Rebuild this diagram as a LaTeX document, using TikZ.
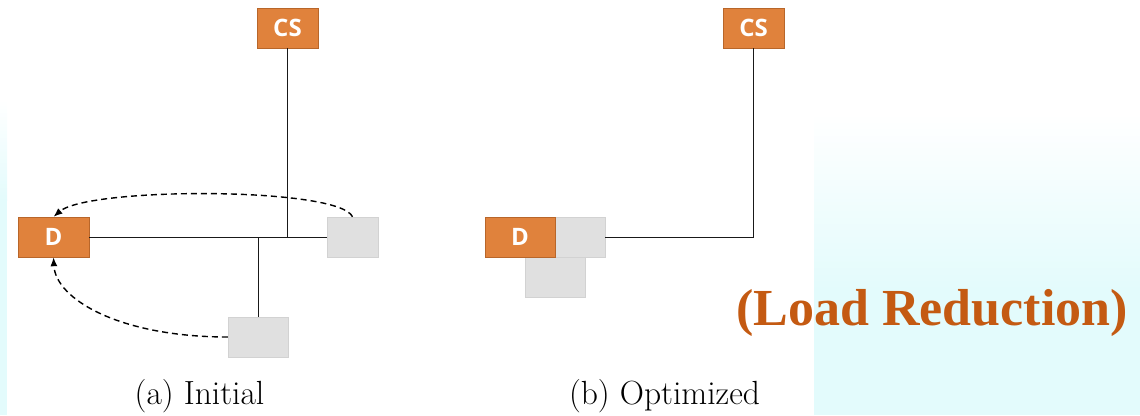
\documentclass[tikz,border=0pt]{standalone}
\usepackage{fontspec}
\newfontfamily\boxfont{Open Sans}
\newfontfamily\titlefont{Liberation Serif}
\usepackage{xcolor}
\usetikzlibrary{arrows.meta}

\definecolor{nodeorange}{HTML}{E0823C}
\definecolor{nodeedge}{HTML}{B8662A}
\definecolor{idlegray}{HTML}{E0E0E0}
\definecolor{idleedge}{HTML}{D2D2D2}
\definecolor{loadtext}{HTML}{C45A12}
\definecolor{slidecyan}{HTML}{E3FBFC}

\begin{document}
\begin{tikzpicture}[x=1pt, y=-1pt,
    station/.style={draw=nodeedge, fill=nodeorange, text=white, font=\boxfont\fontsize{24}{24}\selectfont\bfseries, minimum height=40pt, inner sep=0pt},
    idle/.style={draw=idleedge, fill=idlegray, minimum width=60pt, minimum height=40pt, inner sep=0pt},
    wire/.style={line width=1pt, black!90},
    move/.style={line width=1.4pt, dash pattern=on 6pt off 4pt, -{Latex[length=9pt,width=7pt]}},
    caption/.style={font=\fontsize{33.5}{38}\selectfont}]
    \useasboundingbox (0,0) rectangle (1140,415);

    % --- slide background ---
    \shade[top color=white, bottom color=slidecyan] (814,113) rectangle (1140,290);
    \fill[slidecyan] (814,289.5) rectangle (1140,415);
    \shade[top color=white, bottom color=slidecyan] (0,100) rectangle (7,200);
    \fill[slidecyan] (0,199.5) rectangle (7,415);

    % --- (a) Initial ---
    \node[station, minimum width=61pt] (csA) at (287.5,28) {CS};
    \node[station, minimum width=71pt] (dA) at (53.5,237) {D};
    \node[idle, minimum width=51pt] (rightA) at (352.5,237) {};
    \node[idle] (lowA) at (258,337) {};

    \coordinate (hubA) at (csA.south |- dA.east);
    \coordinate (tapA) at (lowA.north |- dA.east);
    \draw[wire] (dA.east) -- (rightA.west);
    \draw[wire] (csA.south) -- (hubA);
    \draw[wire] (tapA) -- (lowA.north);

    \draw[move] (rightA.north) .. controls +(-13,-30) and +(35,-30) .. (dA.north);
    \draw[move] (lowA.west) .. controls +(-108,0) and +(2,42) .. (dA.south);
    \node[caption] (capA) at (199.5,396) {(a) Initial};

    % --- (b) Optimized ---
    \node[idle] (lowB) at (555,277) {};
    \node[idle] (rightB) at (575,237) {};
    \node[station, minimum width=70pt] (dB) at (520,237) {D};
    \node[station, minimum width=61pt] (csB) at (753.5,28) {CS};
    \draw[wire] (rightB.east) -| (csB.south);
    \node[caption] (capB) at (664.5,396) {(b) Optimized};

    \node[font=\titlefont\fontsize{52}{56}\selectfont\bfseries, text=loadtext] (load) at (932,313) {(Load Reduction)};
\end{tikzpicture}
\end{document}
